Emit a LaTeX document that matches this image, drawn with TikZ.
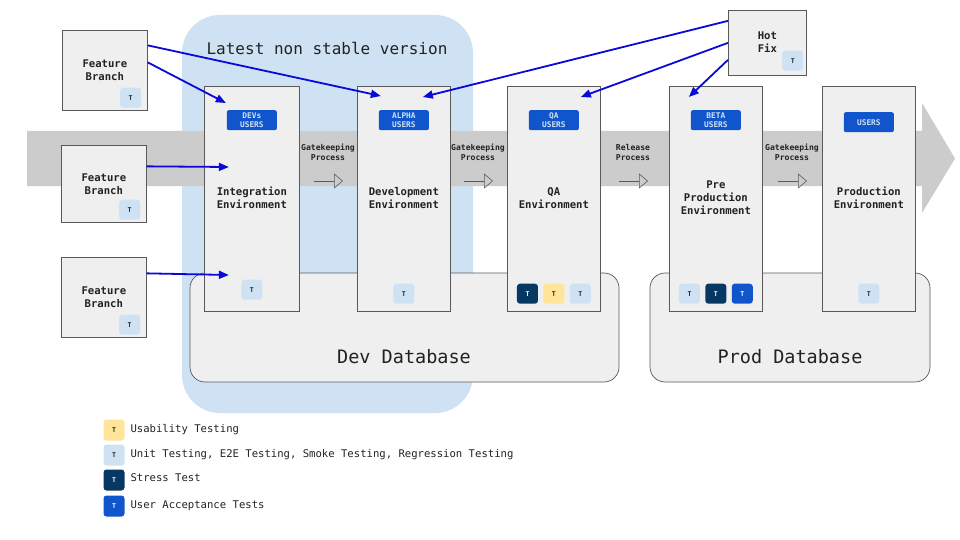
\documentclass[tikz,border=0pt]{standalone}
\usepackage{fontspec}
\setmainfont{DejaVu Sans Mono}
\usetikzlibrary{arrows.meta,positioning}

\definecolor{stableblue}{HTML}{CFE2F3}
\definecolor{bandgray}{HTML}{CCCCCC}
\definecolor{boxfill}{HTML}{EFEFEF}
\definecolor{edgegray}{HTML}{595959}
\definecolor{tlightc}{HTML}{CFE2F3}
\definecolor{tyellowc}{HTML}{FFE599}
\definecolor{tnavyc}{HTML}{073763}
\definecolor{tbluec}{HTML}{1155CC}
\definecolor{pushblue}{HTML}{0A0AD8}
\definecolor{inkgray}{HTML}{222222}

\tikzset{
  envbox/.style={draw=edgegray, fill=boxfill, line width=0.7pt, inner sep=0pt,
    minimum width=93pt, minimum height=225pt, anchor=north west},
  branchbox/.style={draw=edgegray, fill=boxfill, line width=0.7pt, inner sep=0pt,
    anchor=north west},
  dbbox/.style={draw=edgegray, fill=boxfill, line width=0.7pt, rounded corners=15pt},
  userbadge/.style={fill=tbluec, text=stableblue, rounded corners=2pt, inner sep=0pt,
    minimum width=50pt, minimum height=20pt, align=center,
    font=\bfseries\fontsize{7.8}{9.5}\selectfont},
  tbadge/.style={rounded corners=3pt, minimum width=21pt, minimum height=20pt,
    inner sep=0pt, font=\bfseries\fontsize{6.5}{7}\selectfont},
  tlight/.style={tbadge, fill=tlightc, text=inkgray},
  tyellow/.style={tbadge, fill=tyellowc, text=inkgray},
  tnavy/.style={tbadge, fill=tnavyc, text=white},
  tblue/.style={tbadge, fill=tbluec, text=white},
  envlabel/.style={align=center, text=inkgray, font=\bfseries\fontsize{10.6}{13}\selectfont},
  proclabel/.style={align=center, text=inkgray, font=\bfseries\fontsize{8.1}{10}\selectfont},
  procarrow/.style={draw=edgegray, line width=0.6pt, -{Triangle[open, length=9pt, width=15pt]}},
  push/.style={draw=pushblue, line width=1.8pt, -{Triangle[length=10pt, width=8pt]}},
  dblabel/.style={text=inkgray, font=\fontsize{18.5}{20}\selectfont},
  legendtext/.style={anchor=west, text=inkgray, font=\fontsize{10.6}{12}\selectfont},
}

\begin{document}
\begin{tikzpicture}[x=1pt, y=-1pt]
  \useasboundingbox[fill=white] (0,0) rectangle (960,540);

  % latest non stable version
  \fill[stableblue, rounded corners=38pt] (182,15) rectangle (473,413);
  \node[text=inkgray, font=\fontsize{16}{18}\selectfont] (latest) at (327,48) {Latest non stable version};

  % flow band
  \fill[bandgray] (27,131) -- (922,131) -- (922,103) -- (955,158.5)
    -- (922,213) -- (922,186) -- (27,186) -- cycle;

  % databases
  \draw[dbbox] (190,273) rectangle (619,382);
  \node[dblabel] (devdb) at (404,357) {Dev Database};
  \draw[dbbox] (650,273) rectangle (930,382);
  \node[dblabel] (proddb) at (790,357) {Prod Database};

  % environments
  \node[envbox, minimum width=95pt] (int) at (204,86) {};
  \node[envbox] (dev) at (357,86) {};
  \node[envbox] (qa) at (507,86) {};
  \node[envbox] (pre) at (669,86) {};
  \node[envbox] (prod) at (822,86) {};

  \node[userbadge, below=24pt of int.north] (intusers) {DEVs\\USERS};
  \node[userbadge, below=24pt of dev.north] (devusers) {ALPHA\\USERS};
  \node[userbadge, below=24pt of qa.north] (qausers) {QA\\USERS};
  \node[userbadge, below=24pt of pre.north] (preusers) {BETA\\USERS};
  \node[userbadge, below=26pt of prod.north] (produsers) {USERS};

  \node[envlabel] (intlabel) at ([yshift=-112pt]int.north) {Integration\\Environment};
  \node[envlabel] (devlabel) at ([yshift=-112pt]dev.north) {Development\\Environment};
  \node[envlabel] (qalabel) at ([yshift=-112pt]qa.north) {QA\\Environment};
  \node[envlabel] (prelabel) at ([yshift=-112pt]pre.north) {Pre\\Production\\Environment};
  \node[envlabel] (prodlabel) at ([yshift=-112pt]prod.north) {Production\\Environment};

  \node[tlight] (intt) at ([yshift=22pt]int.south) {T};
  \node[tlight] (devt) at ([yshift=18pt]dev.south) {T};
  \node[tyellow] (qat2) at ([yshift=18pt]qa.south) {T};
  \node[tnavy, left=5pt of qat2] (qat1) {T};
  \node[tlight, right=5pt of qat2] (qat3) {T};
  \node[tnavy] (pret2) at ([yshift=18pt]pre.south) {T};
  \node[tlight, left=5pt of pret2] (pret1) {T};
  \node[tblue, right=5pt of pret2] (pret3) {T};
  \node[tlight] (prodt) at ([yshift=18pt]prod.south) {T};

  % processes between environments
  \foreach \x/\name/\txt in {328/gate1/Gatekeeping, 478/gate2/Gatekeeping,
      633/rel/Release, 792/gate3/Gatekeeping} {
    \node[proclabel] (\name) at (\x,152) {\txt\\Process};
    \coordinate (\name a) at (\x-14,181);
    \coordinate (\name b) at (\x+15,181);
    \draw[procarrow] (\name a) -- (\name b);
  }

  % feature branches
  \node[branchbox, minimum width=85pt, minimum height=80pt] (fb1) at (62,30) {};
  \node[branchbox, minimum width=85pt, minimum height=77pt] (fb2) at (61,145) {};
  \node[branchbox, minimum width=85pt, minimum height=80pt] (fb3) at (61,257) {};
  \foreach \b in {fb1, fb2, fb3} {
    \node[envlabel] (\b label) at (\b.center) {Feature\\Branch};
    \node[tlight] (\b t) at ([xshift=-17pt, yshift=13pt]\b.south east) {T};
  }

  % hot fix
  \node[branchbox, minimum width=78pt, minimum height=65pt] (hotfix) at (728,10) {};
  \node[envlabel] (hotfixlabel) at ([yshift=-32pt]hotfix.north) {Hot\\Fix};
  \node[tlight] (hotfixt) at ([xshift=-14pt, yshift=15pt]hotfix.south east) {T};

  % merge targets
  \coordinate (intin1) at ([xshift=-26pt, yshift=-17pt]int.north);
  \coordinate (intin2) at ([xshift=-23pt, yshift=-81pt]int.north);
  \coordinate (intin3) at ([xshift=-23pt, yshift=-189pt]int.north);
  \coordinate (devin1) at ([xshift=-23pt, yshift=-10pt]dev.north);
  \coordinate (devin2) at ([xshift=19pt, yshift=-11pt]dev.north);
  \coordinate (qain) at ([xshift=27pt, yshift=-11pt]qa.north);
  \coordinate (prein) at ([xshift=-27pt, yshift=-11pt]pre.north);

  \begin{scope}[push]
    \draw ([yshift=25pt]fb1.east) to (devin1);
    \draw ([yshift=8pt]fb1.east) to (intin1);
    \draw ([yshift=17.5pt]fb2.east) to (intin2);
    \draw ([yshift=24pt]fb3.east) to (intin3);
    \draw ([yshift=22pt]hotfix.west) to (devin2);
    \draw ([yshift=0pt]hotfix.west) to (qain);
    \draw ([yshift=-17pt]hotfix.west) to (prein);
  \end{scope}

  % legend
  \node[tyellow, minimum width=21pt, minimum height=21pt] (leg1) at (114,430) {T};
  \node[tlight, minimum width=21pt, minimum height=21pt] (leg2) at (114,455) {T};
  \node[tnavy, minimum width=21pt, minimum height=21pt] (leg3) at (114,480) {T};
  \node[tblue, minimum width=21pt, minimum height=21pt] (leg4) at (114,506) {T};
  \node[legendtext] (leg1text) at (127,430) {Usability Testing};
  \node[legendtext] (leg2text) at (127,455) {Unit Testing, E2E Testing, Smoke Testing, Regression Testing};
  \node[legendtext] (leg3text) at (127,478) {Stress Test};
  \node[legendtext] (leg4text) at (127,506) {User Acceptance Tests};
\end{tikzpicture}
\end{document}
